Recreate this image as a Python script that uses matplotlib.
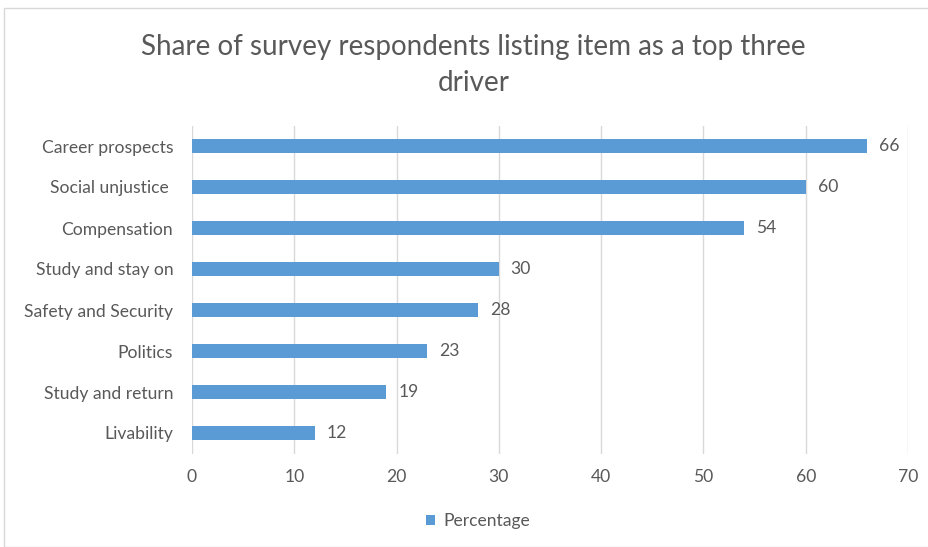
import matplotlib
matplotlib.use("Agg")
import matplotlib.pyplot as plt
from matplotlib.patches import Rectangle

categories = ["Career prospects", "Social unjustice ", "Compensation", "Study and stay on",
              "Safety and Security", "Politics", "Study and return", "Livability"]
values = [66, 60, 54, 30, 28, 23, 19, 12]
xticks = [0, 10, 20, 30, 40, 50, 60, 70]
title = "Share of survey respondents listing item as a top three\ndriver"
legend_label = "Percentage"

BAR = "#5B9BD5"
TXT = "#595959"
GRID = "#D9D9D9"
FONT = ["Lato", "DejaVu Sans"]
FS = 12.6

fig = plt.figure(figsize=(9.29, 5.47), dpi=100)
fig.patch.set_facecolor("white")
# chart border
fig.patches.append(Rectangle((4/929, 0), 1.0, 1 - 8/547, transform=fig.transFigure,
                             fill=False, edgecolor=GRID, linewidth=1.0))

ax = fig.add_axes([192/929, 1 - 453.5/547, (908 - 192)/929, (453.5 - 125.5)/547])
y = list(range(len(categories)))
bars = ax.barh(y, values, height=0.34, color=BAR, label=legend_label, zorder=3)
ax.set_ylim(len(categories) - 0.5, -0.5)
ax.set_xlim(0, 70)
ax.set_xticks(xticks)
ax.set_xticklabels([str(t) for t in xticks], fontsize=FS, color=TXT, family=FONT)
ax.set_yticks(y)
ax.set_yticklabels(categories, fontsize=FS, color=TXT, family=FONT)
ax.tick_params(length=0, pad=11, axis="x")
ax.tick_params(length=0, pad=13.5, axis="y")
ax.grid(axis="x", color=GRID, linewidth=1.0, zorder=0)
for s in ax.spines.values():
    s.set_visible(False)

for yi, v in zip(y, values):
    ax.annotate(str(v), (v, yi), xytext=(8.5, 0), textcoords="offset points",
                va="center", ha="left", fontsize=FS, color=TXT, family=FONT)

fig.text(0.5 + 9/929, 1 - 65/547, title, ha="center", va="center", fontsize=20,
         color=TXT, family=FONT, linespacing=1.45)

leg = fig.legend(handles=[bars], labels=[legend_label], loc="center",
                 bbox_to_anchor=(478/929, 1 - 521/547), frameon=False,
                 prop={"family": FONT, "size": FS}, handlelength=0.55, handleheight=0.55,
                 handletextpad=0.45)
for t in leg.get_texts():
    t.set_color(TXT)

fig.savefig("out.png", dpi=100, facecolor="white")
